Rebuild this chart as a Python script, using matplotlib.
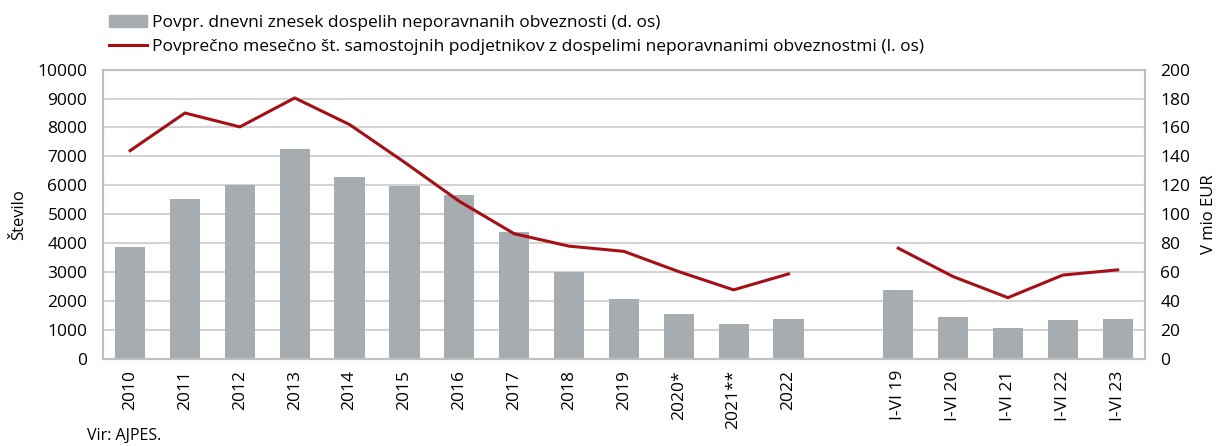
import matplotlib
matplotlib.use("Agg")
import matplotlib.pyplot as plt
import numpy as np
from matplotlib.patches import Patch
from matplotlib.lines import Line2D

plt.rcParams['font.family'] = ['Open Sans', 'DejaVu Sans']

# annual data
years = ["2010", "2011", "2012", "2013", "2014", "2015", "2016", "2017",
         "2018", "2019", "2020*", "2021**", "2022"]
amount_year = [77.4, 110.6, 120, 145, 126, 119.6, 113, 87.6, 60, 41.4, 31, 24, 28]
count_year = [7200, 8500, 8020, 9020, 8100, 6800, 5450, 4330, 3900, 3720, 3020, 2390, 2940]

# first half-year data
halves = ["I-VI 19", "I-VI 20", "I-VI 21", "I-VI 22", "I-VI 23"]
amount_half = [47.7, 28.8, 21.2, 27, 28]
count_half = [3830, 2850, 2120, 2900, 3080]

bar_col = "#A7ACB1"
line_col = "#A50F15"
grid_col = "#D3D3D3"
fs = 12.5

x1 = np.arange(len(years))
x2 = np.arange(len(halves)) + len(years) + 1

fig = plt.figure(figsize=(12.24, 4.46), dpi=100)
ax = fig.add_axes([0.0839, 0.195, 0.8516, 0.649])
ax2 = ax.twinx()

# bars on right axis, drawn behind the line
ax2.bar(x1, amount_year, width=0.55, color=bar_col, zorder=2)
ax2.bar(x2, amount_half, width=0.55, color=bar_col, zorder=2)
ax2.set_ylim(0, 200)
ax2.set_yticks(np.arange(0, 201, 20))
ax2.yaxis.grid(True, color=grid_col, lw=1.5)
ax2.set_axisbelow(True)
ax2.set_ylabel("V mio EUR", fontsize=12)
ax2.yaxis.set_label_coords(1.054, 0.5)

ax.plot(x1, count_year, color=line_col, lw=2.2)
ax.plot(x2, count_half, color=line_col, lw=2.2)
ax.set_ylim(0, 10000)
ax.set_yticks(np.arange(0, 10001, 1000))
ax.set_xlim(-0.5, x2[-1] + 0.5)
ax.set_xticks(list(x1) + list(x2))
ax.set_xticklabels(years + halves, rotation=90)
ax.set_ylabel("Število", fontsize=12)
ax.yaxis.set_label_coords(-0.0726, 0.5)

ax.set_zorder(ax2.get_zorder() + 1)
ax.patch.set_visible(False)

for a in (ax, ax2):
    a.tick_params(length=0, labelsize=fs, pad=11)
    for s in a.spines.values():
        s.set_color("#C0C0C0")
        s.set_linewidth(1.5)
ax.tick_params(axis="x", pad=8)

handles = [Patch(color=bar_col), Line2D([], [], color=line_col, lw=2.2)]
labels = ["Povpr. dnevni znesek dospelih neporavnanih obveznosti (d. os)",
          "Povprečno mesečno št. samostojnih podjetnikov z dospelimi neporavnanimi obveznostmi (l. os)"]
fig.legend(handles, labels, loc="upper left", bbox_to_anchor=(0.0835, 0.982),
           frameon=False, fontsize=fs, handlelength=2.2, handletextpad=0.25,
           labelspacing=0.45, borderaxespad=0)

fig.text(0.071, 0.005, "Vir: AJPES.", fontsize=11.5, va="bottom")

fig.savefig("out.png", dpi=100)
